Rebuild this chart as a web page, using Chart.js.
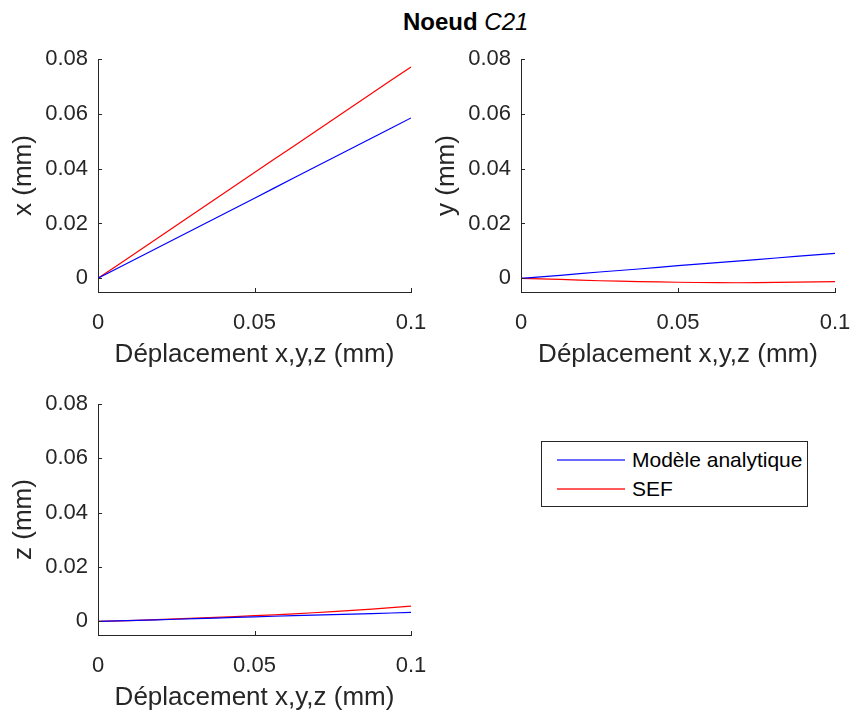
<!DOCTYPE html>
<html>
<head>
<meta charset="utf-8">
<script src="https://cdn.jsdelivr.net/npm/chart.js@4/dist/chart.umd.min.js"></script>
<style>
    html, body { margin: 0; padding: 0; background: #fff; overflow: hidden; }
    body { width: 852px; height: 711px; position: relative; font-family: "Liberation Sans", Arial, sans-serif; }
    .plot { position: absolute; }
    #title { position: absolute; left: 403px; top: 10px; font-size: 24px; line-height: 24px; color: #000; white-space: nowrap; }
    #title b { font-weight: bold; }
    #title i { font-weight: normal; }
    #legend { position: absolute; left: 541px; top: 441px; width: 265px; height: 64px; border: 1px solid #262626; background: #fff; }
    .leg-row { position: absolute; left: 0; height: 24px; font-size: 21px; line-height: 24px; color: #000; white-space: nowrap; }
    .leg-line { position: absolute; left: 15px; top: 11px; width: 68px; height: 0; border-top: 2px solid; }
    .leg-text { position: absolute; left: 90px; top: 0; }
</style>
</head>
<body>
<div id="title"><b>Noeud</b> <i>C21</i></div>
<canvas id="plotX" class="plot" style="left:0px;top:40px" width="440" height="340"></canvas>
<canvas id="plotY" class="plot" style="left:423px;top:40px" width="429" height="340"></canvas>
<canvas id="plotZ" class="plot" style="left:0px;top:383px" width="440" height="340"></canvas>
<div id="legend">
    <div class="leg-row" style="top:6px"><span class="leg-line" style="border-color:#6a6aff"></span><span class="leg-text">Modèle analytique</span></div>
    <div class="leg-row" style="top:35px"><span class="leg-line" style="border-color:#ff5a5a"></span><span class="leg-text">SEF</span></div>
</div>
<script>
// déplacement imposé (mm)
const dispX = [0, 0.0125, 0.025, 0.0375, 0.05, 0.0625, 0.075, 0.0875, 0.1];

// Noeud C21 - réponse en x
const xModel = [0, 0.0073, 0.0146, 0.0219, 0.0292, 0.0366, 0.0439, 0.0512, 0.0585];
const xSef   = [0, 0.0096, 0.0193, 0.0289, 0.0386, 0.0482, 0.0578, 0.0675, 0.0771];

// réponse en y
const yModel = [0, 0.0011, 0.0023, 0.0034, 0.0046, 0.0057, 0.0068, 0.0080, 0.0091];
const ySef   = [0, -0.0004, -0.0009, -0.0012, -0.00145, -0.0016, -0.0016, -0.0014, -0.0012];

// réponse en z
const zModel = [0, 0.0004, 0.0008, 0.0012, 0.0017, 0.0021, 0.0025, 0.0029, 0.0033];
const zSef   = [0, 0.0004, 0.0009, 0.0015, 0.0021, 0.0028, 0.0036, 0.0045, 0.0056];

const xTicks = [0, 0.05, 0.1];
const xTickLabels = ['0', '0.05', '0.1'];
const yTicks = [0, 0.02, 0.04, 0.06, 0.08];
const yTickLabels = ['0', '0.02', '0.04', '0.06', '0.08'];

const seriesNames = ['Modèle analytique', 'SEF'];
const seriesColors = ['#0000ff', '#ff0000'];

const FONT = '"Liberation Sans", Arial, sans-serif';
const AXIS_COLOR = '#262626';

function points(values) {
    return dispX.map((d, i) => ({ x: d, y: values[i] }));
}

// inward tick marks, Octave style
const innerTicks = {
    id: 'innerTicks',
    afterDraw(chart) {
        const ctx = chart.ctx;
        const area = chart.chartArea;
        ctx.save();
        ctx.strokeStyle = AXIS_COLOR;
        ctx.lineWidth = 1;
        ctx.beginPath();
        xTicks.forEach(v => {
            const px = Math.round(chart.scales.x.getPixelForValue(v)) + 0.5;
            ctx.moveTo(px, area.bottom);
            ctx.lineTo(px, area.bottom - 4);
        });
        yTicks.forEach(v => {
            const py = Math.round(chart.scales.y.getPixelForValue(v)) + 0.5;
            ctx.moveTo(area.left, py);
            ctx.lineTo(area.left + 4, py);
        });
        ctx.stroke();
        ctx.restore();
    },
};

function makePlot(canvasId, yLabel, model, sef, padTop, padRight) {
    return new Chart(document.getElementById(canvasId), {
        type: 'line',
        data: {
            datasets: [model, sef].map((vals, i) => ({
                label: seriesNames[i],
                data: points(vals),
                borderColor: seriesColors[i],
                backgroundColor: seriesColors[i],
                borderWidth: 1.2,
                pointRadius: 0,
                tension: 0.3,
                fill: false,
            })),
        },
        options: {
            responsive: false,
            animation: false,
            layout: { padding: { top: padTop, right: padRight, bottom: 0, left: 0 } },
            plugins: {
                legend: { display: false },
                tooltip: { enabled: false },
            },
            scales: {
                x: {
                    type: 'linear',
                    min: 0,
                    max: 0.1,
                    afterBuildTicks: scale => { scale.ticks = xTicks.map(v => ({ value: v })); },
                    afterFit: scale => {
                        scale.height = 88;
                        scale.paddingLeft = 0;
                        scale.paddingRight = 0;
                    },
                    grid: { display: true, drawOnChartArea: false, drawTicks: false },
                    border: { display: true, color: AXIS_COLOR, width: 1 },
                    ticks: {
                        padding: 18,
                        color: AXIS_COLOR,
                        font: { family: FONT, size: 22 },
                        maxRotation: 0,
                        callback: (value, index) => xTickLabels[index],
                    },
                    title: {
                        display: true,
                        text: 'Déplacement x,y,z (mm)',
                        color: AXIS_COLOR,
                        font: { family: FONT, size: 26 },
                        padding: { top: 0, bottom: 10 },
                    },
                },
                y: {
                    type: 'linear',
                    min: -0.005,
                    max: 0.08,
                    afterBuildTicks: scale => { scale.ticks = yTicks.map(v => ({ value: v })); },
                    afterFit: scale => {
                        scale.width = 98;
                        scale.paddingTop = 0;
                        scale.paddingBottom = 0;
                    },
                    grid: { display: true, drawOnChartArea: false, drawTicks: false },
                    border: { display: true, color: AXIS_COLOR, width: 1 },
                    ticks: {
                        padding: 10,
                        color: AXIS_COLOR,
                        font: { family: FONT, size: 22 },
                        callback: (value, index) => yTickLabels[index],
                    },
                    title: {
                        display: true,
                        text: yLabel,
                        color: AXIS_COLOR,
                        font: { family: FONT, size: 26 },
                        padding: { top: 8, bottom: 0 },
                    },
                },
            },
        },
        plugins: [innerTicks],
    });
}

makePlot('plotX', 'x (mm)', xModel, xSef, 19, 29);
makePlot('plotY', 'y (mm)', yModel, ySef, 19, 17);
makePlot('plotZ', 'z (mm)', zModel, zSef, 21, 29);
</script>
</body>
</html>
